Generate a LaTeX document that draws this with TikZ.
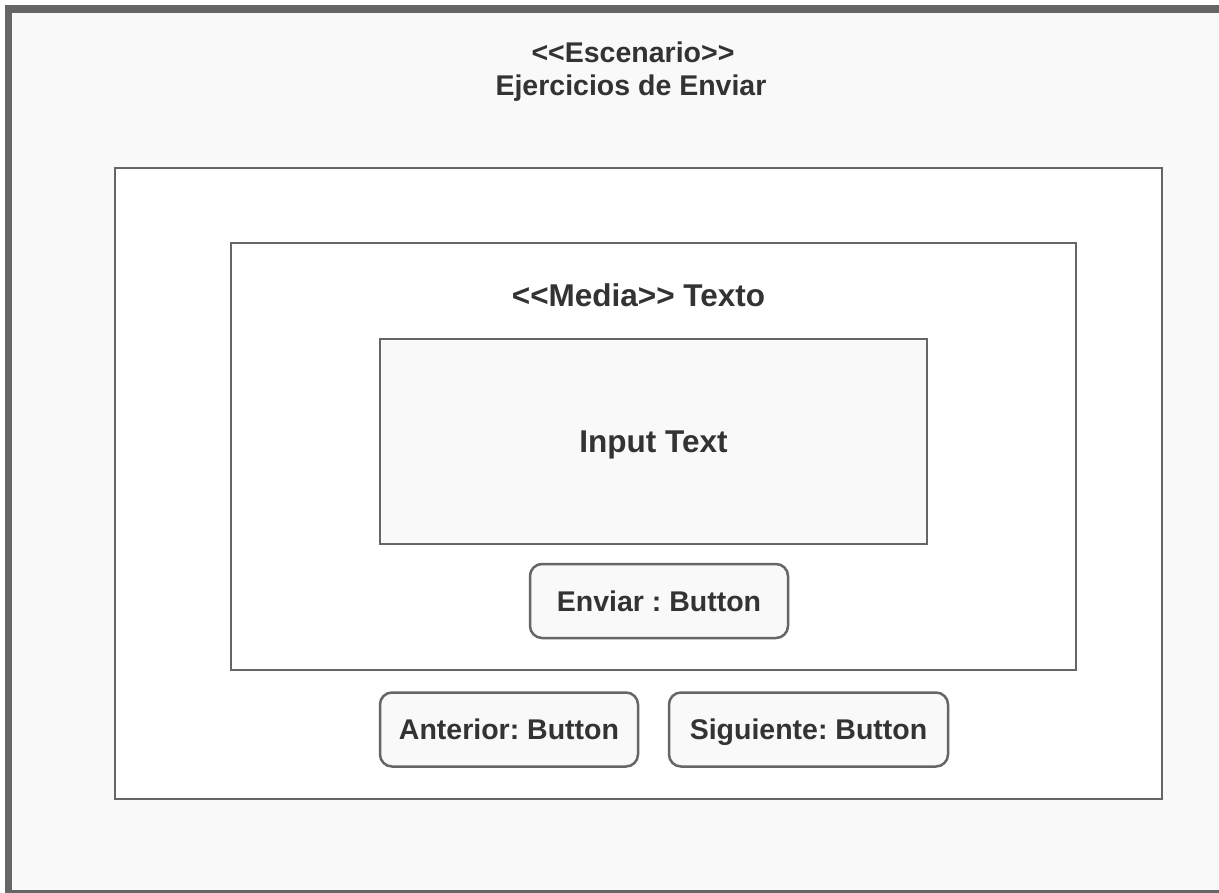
\documentclass[tikz,border=0pt]{standalone}
\usepackage{fontspec}
\setmainfont{Liberation Sans}[Ligatures=TeXOff]
\usetikzlibrary{positioning}
\definecolor{framegray}{HTML}{666666}
\definecolor{paper}{HTML}{F9F9F9}
\definecolor{inkgray}{HTML}{333333}
\frenchspacing

\begin{document}
\begin{tikzpicture}[x=1pt,y=-1pt,
    panel/.style={draw=framegray,line width=2.5pt,fill=white,inner sep=0pt},
    inputbox/.style={panel,fill=paper},
    btn/.style={draw=framegray,line width=2.5pt,fill=paper,rounded corners=12pt,
      minimum height=74pt,inner sep=0pt},
    lbl/.style={text=inkgray,font=\bfseries\fontsize{28.5}{33}\selectfont,align=center,
      text height=20.4pt,text depth=0pt},
    biglbl/.style={lbl,font=\bfseries\fontsize{31.5}{36}\selectfont,text height=22.5pt}]
  \clip (0,0) rectangle (1219,893);
  % escenario frame
  \draw[draw=framegray,fill=paper,line width=7.5pt] (8.5,9) rectangle (1240,894);
  \node[lbl] (escenario) at (633,52) {<<Escenario>>};
  \node[lbl] (titulo) at (631,85) {Ejercicios de Enviar};
  % contenedor
  \node[panel,minimum width=1047pt,minimum height=631pt] (contenedor) at (638.5,483.5) {};
  \node[panel,minimum width=845pt,minimum height=427pt] (media) at (653.5,456.5) {};
  \node[biglbl] (mediatexto) at (638.5,295) {<<Media>> Texto};
  \node[inputbox,minimum width=547pt,minimum height=205pt,biglbl] (input) at (653.5,441.5) {Input Text};
  % botones
  \node[btn,lbl,minimum width=258pt] (enviar) at (659,601) {Enviar : Button};
  \node[btn,lbl,minimum width=258pt] (anterior) at (509,729.5) {Anterior: Button};
  \node[btn,lbl,minimum width=279pt] (siguiente) at (808.5,729.5) {Siguiente: Button};
\end{tikzpicture}
\end{document}
